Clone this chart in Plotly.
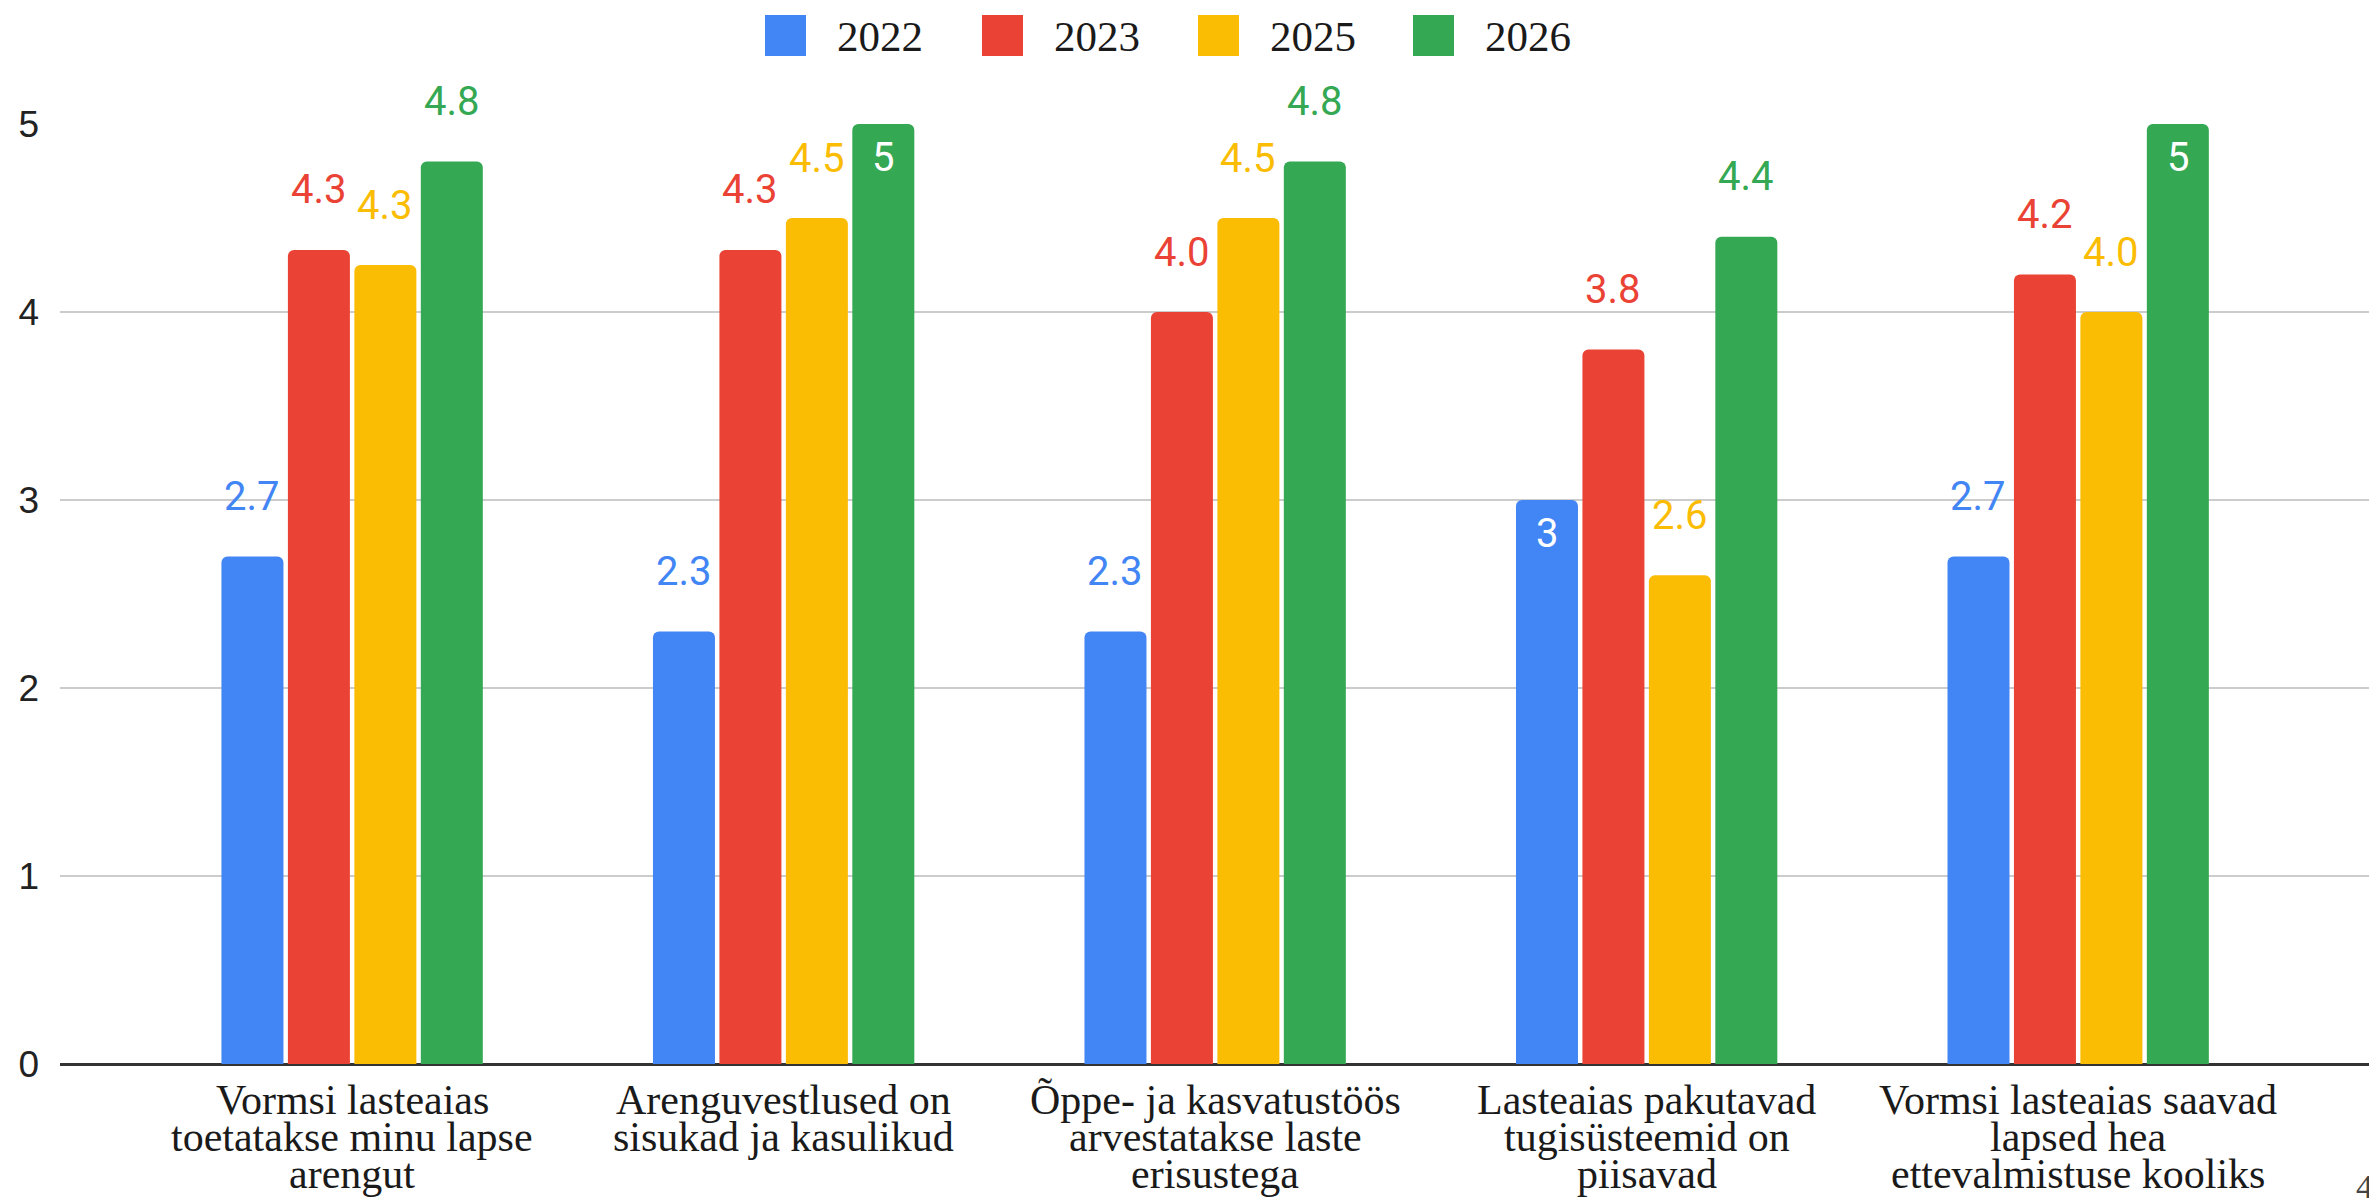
import plotly.graph_objects as go

# ---- data ----
categories = [
    "Vormsi lasteaias toetatakse minu lapse arengut",
    "Arenguvestlused on sisukad ja kasulikud",
    "Õppe- ja kasvatustöös arvestatakse laste erisustega",
    "Lasteaias pakutavad tugisüsteemid on piisavad",
    "Vormsi lasteaias saavad lapsed hea ettevalmistuse kooliks",
]
category_lines = [
    ["Vormsi lasteaias", "toetatakse minu lapse", "arengut"],
    ["Arenguvestlused on", "sisukad ja kasulikud"],
    ["Õppe- ja kasvatustöös", "arvestatakse laste", "erisustega"],
    ["Lasteaias pakutavad", "tugisüsteemid on", "piisavad"],
    ["Vormsi lasteaias saavad", "lapsed hea", "ettevalmistuse kooliks"],
]
series_names = ["2022", "2023", "2025", "2026"]
values_2022 = [2.7, 2.3, 2.3, 3.0, 2.7]
values_2023 = [4.33, 4.33, 4.0, 3.8, 4.2]
values_2025 = [4.25, 4.5, 4.5, 2.6, 4.0]
values_2026 = [4.8, 5.0, 4.8, 4.4, 5.0]
labels_2022 = ["2.7", "2.3", "2.3", "3", "2.7"]
labels_2023 = ["4.3", "4.3", "4.0", "3.8", "4.2"]
labels_2025 = ["4.3", "4.5", "4.5", "2.6", "4.0"]
labels_2026 = ["4.8", "5", "4.8", "4.4", "5"]
inside_2022 = [False, False, False, True, False]
inside_2023 = [False] * 5
inside_2025 = [False] * 5
inside_2026 = [False, True, False, False, True]
y_ticks = [0, 1, 2, 3, 4, 5]

colors = ["#4285F4", "#EA4335", "#FBBC04", "#34A853"]
all_values = [values_2022, values_2023, values_2025, values_2026]
all_labels = [labels_2022, labels_2023, labels_2025, labels_2026]
all_inside = [inside_2022, inside_2023, inside_2025, inside_2026]

W, H = 2369, 1199
ML, MR, MT, MB = 60, 0, 124, 135
BARGAP = 0.384
slot = (1 - BARGAP) / len(series_names)

fig = go.Figure()
annotations = []
for j, (name, vals, labs, ins, col) in enumerate(zip(series_names, all_values, all_labels, all_inside, colors)):
    fig.add_trace(go.Bar(
        name=name, x=categories, y=vals,
        marker=dict(color=col, line=dict(width=0)),
        showlegend=False, hoverinfo="skip",
    ))
    off = (j - (len(series_names) - 1) / 2) * slot
    for i, (v, l, inside) in enumerate(zip(vals, labs, ins)):
        annotations.append(dict(
            x=i + off, xref="x", y=v, yref="y",
            yshift=(-33 if inside else 60), yanchor="middle", xanchor="center",
            text=l, showarrow=False,
            font=dict(family="Roboto, Arial, sans-serif", size=40,
                      color=("white" if inside else col)),
        ))

# category labels (multi-line, tight spacing)
for i, lines in enumerate(category_lines):
    for k, line in enumerate(lines):
        annotations.append(dict(
            x=i, xref="x", y=0, yref="y", yanchor="middle", xanchor="center",
            yshift=-(36 + 37 * k), text=line, showarrow=False,
            font=dict(family="Liberation Serif, Times New Roman, serif", size=42, color="#1a1a1a"),
        ))

PW = W - ML - MR
PH = H - MT - MB
# custom legend
legend_sq_x = [765, 982, 1198, 1413]
shapes = []
for name, col, sx in zip(series_names, colors, legend_sq_x):
    shapes.append(dict(type="rect", xref="paper", yref="paper",
                       x0=(sx - ML) / PW, x1=(sx - ML + 41) / PW,
                       y0=1 + (MT - 56) / PH, y1=1 + (MT - 15) / PH,
                       fillcolor=col, line=dict(width=0)))
    annotations.append(dict(
        x=(sx - ML + 70) / PW, xref="paper", xanchor="left",
        y=1 + (MT - 36) / PH, yref="paper", yanchor="middle",
        text=name, showarrow=False,
        font=dict(family="Liberation Serif, Times New Roman, serif", size=43, color="#1a1a1a"),
    ))

# page number
annotations.append(dict(
    x=(2354 - ML) / PW, xref="paper", xanchor="left",
    y=-(1186 - (H - MB)) / PH, yref="paper", yanchor="middle",
    text="4", showarrow=False,
    font=dict(family="Liberation Serif, Times New Roman, serif", size=34, color="#444444"),
))

fig.update_layout(
    width=W, height=H,
    margin=dict(l=ML, r=MR, t=MT, b=MB, pad=0),
    paper_bgcolor="white", plot_bgcolor="white",
    barmode="group", bargap=BARGAP, bargroupgap=0.067,
    barcornerradius=6,
    annotations=annotations, shapes=shapes,
    xaxis=dict(type="category", range=[-0.677, 4.674], showticklabels=False,
               showgrid=False, zeroline=False, showline=False, ticks=""),
    yaxis=dict(range=[0, 5], tickvals=y_ticks, showgrid=True, gridcolor="#cccccc", gridwidth=2,
               zeroline=True, zerolinecolor="#333333", zerolinewidth=3,
               showline=False, ticks="", ticklabelstandoff=20,
               tickfont=dict(family="Liberation Sans, Arial, sans-serif", size=37, color="#222222")),
)

fig.write_html("out.html", config={"displayModeBar": False},
               post_script="document.body.style.margin='0';document.body.style.overflow='hidden';")
